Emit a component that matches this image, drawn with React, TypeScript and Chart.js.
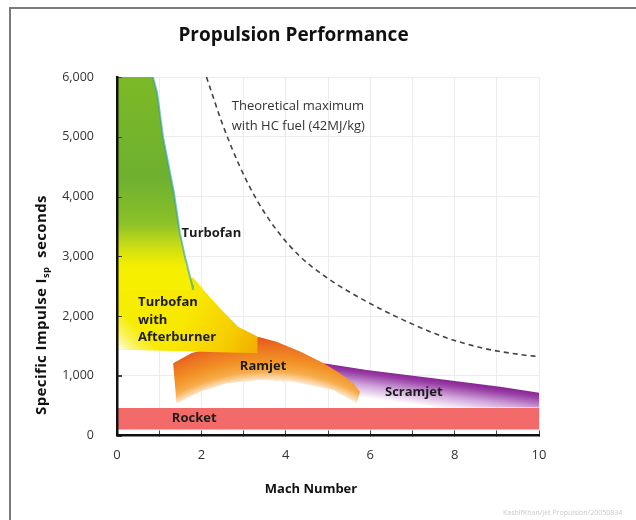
import React, { useEffect, useRef } from "react";
import { Chart, registerables } from "chart.js";

Chart.register(...registerables);

// ---- data (Mach number vs specific impulse, s) ----
const turbofanMach = [0, 0.85, 0.95, 1.09, 1.35, 1.49, 1.61, 1.68, 1.78, 1.8, 0];
const turbofanIsp = [6000, 6000, 5740, 5000, 4060, 3390, 2990, 2800, 2520, 2440, 2440];

const afterburnerMach = [0, 1.81, 2.12, 2.48, 2.87, 3.33, 3.33, 0];
const afterburnerIsp = [2640, 2640, 2380, 2100, 1820, 1655, 1375, 1440];

const ramjetMach = [1.33, 1.77, 3.36, 3.78, 4.34, 4.89, 5.28, 5.6, 5.76, 5.68, 5.13, 4.18, 3.39, 2.6, 1.97, 1.49, 1.41];
const ramjetIsp = [1210, 1380, 1650, 1570, 1404, 1215, 1042, 874, 734, 540, 762, 901, 930, 874, 734, 566, 540];

const scramjetMach = [4.6, 4.89, 5.92, 7.49, 9.08, 10, 10, 5.5];
const scramjetIsp = [1240, 1209, 1097, 958, 817, 717, 470, 470];

const rocketMach = [0, 10, 10, 0];
const rocketIsp = [460, 460, 100, 100];

const theoreticalMach = [2.12, 2.52, 2.91, 3.31, 3.78, 4.34, 5.05, 5.84, 6.78, 7.73, 8.68, 9.63, 10];
const theoreticalIsp = [6000, 5173, 4503, 3945, 3442, 2995, 2605, 2270, 1935, 1655, 1460, 1348, 1320];

const machMin = 0;
const machMax = 10;
const ispMin = 0;
const ispMax = 6000;

const regionLabelText = ["Turbofan", "Turbofan", "with", "Afterburner", "Ramjet", "Scramjet", "Rocket"];
const regionLabelMach = [1.53, 0.5, 0.5, 0.5, 2.91, 6.35, 1.3];
const regionLabelIsp = [3387, 2224, 1935, 1645, 1152, 717, 288];

const noteText = ["Theoretical maximum", "with HC fuel (42MJ/kg)"];
const noteMach = [2.72, 2.72];
const noteIsp = [5508, 5173];

const chartTitle = "Propulsion Performance";
const xTitle = "Mach Number";
const credit = "KashifKhan/Jet Propulsion/20050834";

// ---- helpers ----
const pts = (xs: number[], ys: number[]) => xs.map((x, i) => ({ x, y: ys[i] }));
const xPix = (chart: any, m: number) => chart.scales.x.getPixelForValue(m);
const yPix = (chart: any, v: number) => chart.scales.y.getPixelForValue(v);

function turbofanFill(c: any) {
  const chart = c.chart;
  if (!chart.chartArea) return "#76b52c";
  const hi = turbofanIsp[0];
  const lo = turbofanIsp[turbofanIsp.length - 1];
  const g = chart.ctx.createLinearGradient(0, yPix(chart, hi), 0, yPix(chart, lo));
  const stop = (isp: number, col: string) => g.addColorStop((hi - isp) / (hi - lo), col);
  stop(6000, "rgb(124,185,38)");
  stop(4300, "rgb(110,177,48)");
  stop(3550, "rgb(140,193,40)");
  stop(3150, "rgb(205,222,20)");
  stop(2850, "rgb(243,238,0)");
  stop(2440, "rgb(248,240,0)");
  return g;
}

function afterburnerFill(c: any) {
  const chart = c.chart;
  if (!chart.chartArea) return "#f6e600";
  const g = chart.ctx.createLinearGradient(
    xPix(chart, afterburnerMach[0]), yPix(chart, afterburnerIsp[0]),
    xPix(chart, afterburnerMach[6]), yPix(chart, afterburnerIsp[6])
  );
  g.addColorStop(0, "#f5ef00");
  g.addColorStop(0.5, "#f8e800");
  g.addColorStop(0.8, "#f6cc00");
  g.addColorStop(1, "#f2ab00");
  return g;
}

function afterburnerFade(c: any) {
  const chart = c.chart;
  if (!chart.chartArea) return "rgba(255,255,255,0)";
  const g = chart.ctx.createLinearGradient(
    xPix(chart, 0.55), yPix(chart, 1770),
    xPix(chart, 0.07), yPix(chart, 1430)
  );
  g.addColorStop(0, "rgba(255,255,245,0)");
  g.addColorStop(0.5, "rgba(255,255,240,0.35)");
  g.addColorStop(1, "rgba(255,255,240,0.9)");
  return g;
}

function ramjetFill(c: any) {
  const chart = c.chart;
  if (!chart.chartArea) return "#f0901e";
  const cx = xPix(chart, 3.58);
  const cy = yPix(chart, -2216);
  const dist = (m: number, v: number) => Math.hypot(xPix(chart, m) - cx, yPix(chart, v) - cy);
  const rIn = dist(ramjetMach[12], ramjetIsp[12]) - 3;
  const rOut = dist(ramjetMach[2], ramjetIsp[2]);
  const g = chart.ctx.createRadialGradient(cx, cy, rIn, cx, cy, rOut);
  g.addColorStop(0, "rgba(255,252,246,1)");
  g.addColorStop(0.1, "#fbdab0");
  g.addColorStop(0.25, "#f6ac4a");
  g.addColorStop(0.48, "#f29226");
  g.addColorStop(0.78, "#ec7220");
  g.addColorStop(1, "#e4521c");
  return g;
}

function scramjetFill(c: any) {
  const chart = c.chart;
  if (!chart.chartArea) return "#9b3aa8";
  const x1 = xPix(chart, scramjetMach[1]), y1 = yPix(chart, scramjetIsp[1]);
  const x2 = xPix(chart, scramjetMach[5]), y2 = yPix(chart, scramjetIsp[5]);
  const dx = x2 - x1, dy = y2 - y1, len = Math.hypot(dx, dy);
  const nx = -dy / len, ny = dx / len;
  const mx = (x1 + x2) / 2, my = (y1 + y2) / 2;
  const g = chart.ctx.createLinearGradient(mx, my, mx + nx * 32, my + ny * 32);
  g.addColorStop(0, "rgb(138,36,150)");
  g.addColorStop(0.15, "rgb(152,62,164)");
  g.addColorStop(0.5, "rgb(208,164,218)");
  g.addColorStop(0.9, "rgb(255,255,255)");
  return g;
}

const polygon = (label: string, xs: number[], ys: number[], bg: any, order: number) => ({
  label,
  data: pts(xs, ys),
  fill: "shape",
  backgroundColor: bg,
  borderColor: "rgba(0,0,0,0)",
  borderWidth: 0,
  pointRadius: 0,
  tension: 0,
  order,
});

const annotationPlugin = {
  id: "annotations",
  afterDatasetsDraw(chart: any) {
    const { ctx } = chart;
    const xs = chart.scales.x;
    const ys = chart.scales.y;
    ctx.save();
    // inward y tick marks over the filled regions
    ctx.strokeStyle = "#444";
    ctx.lineWidth = 1;
    ys.ticks.forEach((t: any) => {
      const y = Math.round(ys.getPixelForValue(t.value)) + 0.5;
      ctx.beginPath();
      ctx.moveTo(chart.chartArea.left, y);
      ctx.lineTo(chart.chartArea.left + 5, y);
      ctx.stroke();
    });
    ctx.textAlign = "left";
    ctx.textBaseline = "middle";
    ctx.fillStyle = "#1c1c1c";
    ctx.font = 'bold 13px "Open Sans"';
    regionLabelText.forEach((t, i) => {
      ctx.fillText(t, xs.getPixelForValue(regionLabelMach[i]), ys.getPixelForValue(regionLabelIsp[i]));
    });
    ctx.fillStyle = "#333";
    ctx.font = '13px "Open Sans"';
    noteText.forEach((t, i) => {
      ctx.fillText(t, xs.getPixelForValue(noteMach[i]), ys.getPixelForValue(noteIsp[i]));
    });
    ctx.restore();
  },
  afterDraw(chart: any) {
    const { ctx } = chart;
    ctx.save();
    // frame
    ctx.strokeStyle = "#7a7a7a";
    ctx.lineWidth = 2;
    ctx.beginPath();
    ctx.moveTo(10, 520);
    ctx.lineTo(10, 8);
    ctx.lineTo(636, 8);
    ctx.stroke();
    // title
    ctx.fillStyle = "#111";
    ctx.textAlign = "center";
    ctx.textBaseline = "middle";
    ctx.font = 'bold 19px "Open Sans"';
    ctx.fillText(chartTitle, 293.5, 36);
    // x title
    ctx.font = 'bold 13px "Open Sans"';
    ctx.fillText(xTitle, 311, 489);
    // y title with subscript
    ctx.save();
    ctx.translate(41, 305);
    ctx.rotate(-Math.PI / 2);
    (ctx as any).letterSpacing = "0.4px";
    const mainF = 'bold 15px "Open Sans"';
    const subF = 'bold 9.5px "Open Sans"';
    const a = "Specific Impulse I";
    const b = "sp";
    const c = "  seconds";
    ctx.font = mainF;
    const wa = ctx.measureText(a).width;
    const wc = ctx.measureText(c).width;
    ctx.font = subF;
    const wb = ctx.measureText(b).width;
    let x = -(wa + wb + wc) / 2;
    ctx.textAlign = "left";
    ctx.textBaseline = "alphabetic";
    ctx.font = mainF;
    ctx.fillText(a, x, 5);
    x += wa;
    ctx.font = subF;
    ctx.fillText(b, x, 8);
    x += wb;
    ctx.font = mainF;
    ctx.fillText(c, x, 5);
    ctx.restore();
    // credit
    ctx.fillStyle = "#c9c9c9";
    ctx.font = '7px "Open Sans"';
    ctx.textAlign = "left";
    ctx.fillText(credit, 503, 513);
    ctx.restore();
  },
};

export default function App() {
  const ref = useRef<HTMLCanvasElement | null>(null);
  useEffect(() => {
    if (!ref.current) return;
    const chart = new Chart(ref.current, {
      type: "line",
      data: {
        datasets: [
          {
            label: "Theoretical maximum",
            data: pts(theoreticalMach, theoreticalIsp),
            borderColor: "#444",
            borderWidth: 1.6,
            borderDash: [5, 4],
            pointRadius: 0,
            fill: false,
            cubicInterpolationMode: "monotone",
            order: 1,
          },
          {
            label: "Turbofan edge",
            data: pts(turbofanMach.slice(1, 10), turbofanIsp.slice(1, 10)),
            borderColor: "rgba(40,158,170,0.6)",
            borderWidth: 2,
            pointRadius: 0,
            fill: false,
            tension: 0,
            order: 2,
          },
          polygon("Turbofan", turbofanMach, turbofanIsp, turbofanFill, 3),
          polygon("Afterburner fade", afterburnerMach, afterburnerIsp, afterburnerFade, 3.5),
          polygon("Turbofan with Afterburner", afterburnerMach, afterburnerIsp, afterburnerFill, 4),
          polygon("Ramjet", ramjetMach, ramjetIsp, ramjetFill, 5),
          polygon("Scramjet", scramjetMach, scramjetIsp, scramjetFill, 6),
          polygon("Rocket", rocketMach, rocketIsp, "#f36a6a", 7),
        ] as any,
      },
      options: {
        responsive: false,
        animation: false,
        events: [],
        layout: { padding: { left: 10, top: 77, right: 97, bottom: 44.5 } },
        plugins: {
          legend: { display: false },
          tooltip: { enabled: false },
          title: { display: false },
        },
        scales: {
          x: {
            type: "linear",
            min: machMin,
            max: machMax,
            afterFit: (s: any) => {
              s.height = 40;
            },
            ticks: {
              stepSize: 1,
              autoSkip: false,
              maxRotation: 0,
              padding: 17,
              color: "#333",
              font: { family: "Open Sans", size: 13 },
              callback: (v: any) => (Number(v) % 2 === 0 ? String(v) : ""),
            },
            grid: { color: "#ececec", tickColor: "#444", tickLength: -5, tickWidth: 1 },
            border: { color: "#111", width: 2.5, z: 1 },
          },
          y: {
            type: "linear",
            min: ispMin,
            max: ispMax,
            afterFit: (s: any) => {
              s.width = 107;
            },
            ticks: {
              stepSize: 1000,
              padding: 28,
              color: "#333",
              font: { family: "Open Sans", size: 12.5 },
              callback: (v: any) => Number(v).toLocaleString("en-US"),
            },
            grid: { color: "#ececec", tickColor: "#444", tickLength: -5, tickWidth: 1 },
            border: { color: "#111", width: 2.5, z: 1 },
          },
        },
      } as any,
      plugins: [annotationPlugin],
    });
    return () => chart.destroy();
  }, []);
  return (
    <div style={{ position: "fixed", left: 0, top: 0, width: 636, height: 520, background: "#fff" }}>
      <canvas ref={ref} width={636} height={520} style={{ display: "block" }} />
    </div>
  );
}
